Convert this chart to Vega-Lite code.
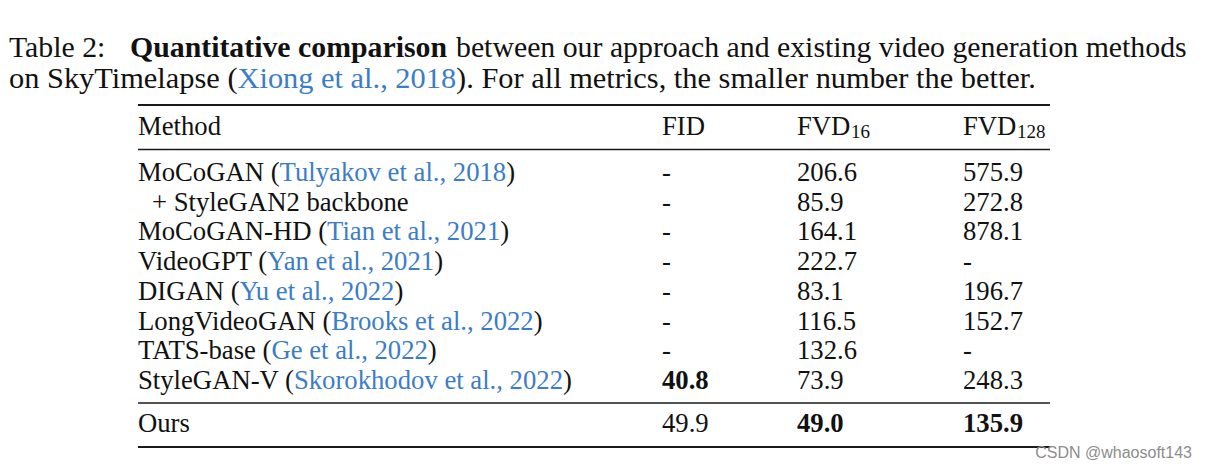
{
  "$schema": "https://vega.github.io/schema/vega-lite/v6.json",
  "width": 1207,
  "height": 469,
  "autosize": {"type": "none"},
  "padding": 0,
  "background": "white",
  "config": {"view": {"stroke": null}, "text": {"font": "Liberation Serif", "baseline": "alphabetic", "align": "left", "color": "#111111"}},
  "datasets": {
    "rules": [
      {"row": -1, "col": 2, "col2": 7, "kind": "thick"},
      {"row": 0.5, "col": 2, "col2": 7, "kind": "thin"},
      {"row": 8.5, "col": 2, "col2": 7, "kind": "thin"},
      {"row": 10, "col": 2, "col2": 7, "kind": "thick"}
    ],
    "caption1": [
      {"row": -3, "col": 0, "text": "Table 2:", "bold": false},
      {"row": -3, "col": 1, "text": "Quantitative comparison", "bold": true},
      {"row": -3, "col": 3, "text": "between our approach and existing video generation methods", "bold": false}
    ],
    "lines": [
      {"row": -2, "col": 0, "part": "caption", "pre": "on SkyTimelapse (", "cite": "Xiong et al., 2018", "post": "). For all metrics, the smaller number the better."},
      {"row": 1, "col": 2, "part": "table", "pre": "MoCoGAN (", "cite": "Tulyakov et al., 2018", "post": ")"},
      {"row": 2, "col": 2.5, "part": "table", "pre": "+ StyleGAN2 backbone", "cite": null, "post": ""},
      {"row": 3, "col": 2, "part": "table", "pre": "MoCoGAN-HD (", "cite": "Tian et al., 2021", "post": ")"},
      {"row": 4, "col": 2, "part": "table", "pre": "VideoGPT (", "cite": "Yan et al., 2021", "post": ")"},
      {"row": 5, "col": 2, "part": "table", "pre": "DIGAN (", "cite": "Yu et al., 2022", "post": ")"},
      {"row": 6, "col": 2, "part": "table", "pre": "LongVideoGAN (", "cite": "Brooks et al., 2022", "post": ")"},
      {"row": 7, "col": 2, "part": "table", "pre": "TATS-base (", "cite": "Ge et al., 2022", "post": ")"},
      {"row": 8, "col": 2, "part": "table", "pre": "StyleGAN-V (", "cite": "Skorokhodov et al., 2022", "post": ")"},
      {"row": 9, "col": 2, "part": "table", "pre": "Ours", "cite": null, "post": ""}
    ],
    "header": [
      {"row": 0, "col": 2, "text": "Method", "sub": null},
      {"row": 0, "col": 4, "text": "FID", "sub": null},
      {"row": 0, "col": 5, "text": "FVD", "sub": "16"},
      {"row": 0, "col": 6, "text": "FVD", "sub": "128"}
    ],
    "cells": [
      {"row": 1, "col": 4, "value": null, "best": false},
      {"row": 1, "col": 5, "value": 206.6, "best": false},
      {"row": 1, "col": 6, "value": 575.9, "best": false},
      {"row": 2, "col": 4, "value": null, "best": false},
      {"row": 2, "col": 5, "value": 85.9, "best": false},
      {"row": 2, "col": 6, "value": 272.8, "best": false},
      {"row": 3, "col": 4, "value": null, "best": false},
      {"row": 3, "col": 5, "value": 164.1, "best": false},
      {"row": 3, "col": 6, "value": 878.1, "best": false},
      {"row": 4, "col": 4, "value": null, "best": false},
      {"row": 4, "col": 5, "value": 222.7, "best": false},
      {"row": 4, "col": 6, "value": null, "best": false},
      {"row": 5, "col": 4, "value": null, "best": false},
      {"row": 5, "col": 5, "value": 83.1, "best": false},
      {"row": 5, "col": 6, "value": 196.7, "best": false},
      {"row": 6, "col": 4, "value": null, "best": false},
      {"row": 6, "col": 5, "value": 116.5, "best": false},
      {"row": 6, "col": 6, "value": 152.7, "best": false},
      {"row": 7, "col": 4, "value": null, "best": false},
      {"row": 7, "col": 5, "value": 132.6, "best": false},
      {"row": 7, "col": 6, "value": null, "best": false},
      {"row": 8, "col": 4, "value": 40.8, "best": true},
      {"row": 8, "col": 5, "value": 73.9, "best": false},
      {"row": 8, "col": 6, "value": 248.3, "best": false},
      {"row": 9, "col": 4, "value": 49.9, "best": false},
      {"row": 9, "col": 5, "value": 49.0, "best": true},
      {"row": 9, "col": 6, "value": 135.9, "best": true}
    ],
    "mark": [
      {"row": 11, "col": 8, "text": "CSDN @whaosoft143"}
    ]
  },
  "encoding": {
    "x": {"field": "col", "type": "quantitative", "axis": null,
      "scale": {"domain": [0, 1, 2, 2.5, 3, 4, 5, 6, 7, 8], "range": [9, 130, 138, 152, 456, 662, 797, 963, 1050, 1192], "nice": false, "zero": false}},
    "y": {"field": "row", "type": "quantitative", "axis": null,
      "scale": {"domain": [-3, -2, -1, 0, 0.5, 1, 8, 8.5, 9, 10, 11], "range": [57, 88, 105, 135, 149.5, 181, 389, 403, 432, 447, 458], "nice": false, "zero": false}}
  },
  "layer": [
    {
      "data": {"name": "rules"},
      "transform": [{"filter": "datum.kind === 'thick'"}],
      "mark": {"type": "rule", "strokeWidth": 2.2, "color": "#1a1a1a"},
      "encoding": {"x2": {"field": "col2"}}
    },
    {
      "data": {"name": "rules"},
      "transform": [{"filter": "datum.kind === 'thin'"}],
      "mark": {"type": "rule", "strokeWidth": 1.3, "color": "#1a1a1a"},
      "encoding": {"x2": {"field": "col2"}}
    },
    {
      "data": {"name": "caption1"},
      "transform": [{"filter": "!datum.bold"}],
      "mark": {"type": "text", "fontSize": 29.8},
      "encoding": {"text": {"field": "text"}}
    },
    {
      "data": {"name": "caption1"},
      "transform": [{"filter": "datum.bold"}],
      "mark": {"type": "text", "fontSize": 29.8, "fontWeight": "bold"},
      "encoding": {"text": {"field": "text"}}
    },
    {
      "data": {"name": "lines"},
      "transform": [{"calculate": "datum.pre + (datum.cite || '') + (datum.post || '')", "as": "full"}],
      "mark": {"type": "text"},
      "encoding": {
        "text": {"field": "full"},
        "size": {"condition": {"test": "datum.part === 'caption'", "value": 30.4}, "value": 26.7}
      }
    },
    {
      "data": {"name": "lines"},
      "transform": [{"filter": "datum.cite != null"}, {"calculate": "datum.pre + datum.cite", "as": "prefix"}],
      "mark": {"type": "text", "fill": "white", "stroke": "white", "strokeWidth": 2.2},
      "encoding": {
        "text": {"field": "prefix"},
        "size": {"condition": {"test": "datum.part === 'caption'", "value": 30.4}, "value": 26.7}
      }
    },
    {
      "data": {"name": "lines"},
      "transform": [{"filter": "datum.cite != null"}, {"calculate": "datum.pre + datum.cite", "as": "prefix"}],
      "mark": {"type": "text", "color": "#3b7dc6"},
      "encoding": {
        "text": {"field": "prefix"},
        "size": {"condition": {"test": "datum.part === 'caption'", "value": 30.4}, "value": 26.7}
      }
    },
    {
      "data": {"name": "lines"},
      "transform": [{"filter": "datum.cite != null"}],
      "mark": {"type": "text", "fill": "white", "stroke": "white", "strokeWidth": 2.2},
      "encoding": {
        "text": {"field": "pre"},
        "size": {"condition": {"test": "datum.part === 'caption'", "value": 30.4}, "value": 26.7}
      }
    },
    {
      "data": {"name": "lines"},
      "transform": [{"filter": "datum.cite != null"}],
      "mark": {"type": "text"},
      "encoding": {
        "text": {"field": "pre"},
        "size": {"condition": {"test": "datum.part === 'caption'", "value": 30.4}, "value": 26.7}
      }
    },
    {
      "data": {"name": "header"},
      "mark": {"type": "text", "fontSize": 26.7},
      "encoding": {"text": {"field": "text"}}
    },
    {
      "data": {"name": "header"},
      "transform": [{"filter": "datum.sub != null"}],
      "mark": {"type": "text", "fontSize": 19, "dx": 54, "dy": 3},
      "encoding": {"text": {"field": "sub"}}
    },
    {
      "data": {"name": "cells"},
      "transform": [{"filter": "!datum.best"}, {"calculate": "datum.value == null ? '-' : format(datum.value, '.1f')", "as": "label"}],
      "mark": {"type": "text", "fontSize": 26.7},
      "encoding": {"text": {"field": "label"}}
    },
    {
      "data": {"name": "cells"},
      "transform": [{"filter": "datum.best"}, {"calculate": "format(datum.value, '.1f')", "as": "label"}],
      "mark": {"type": "text", "fontSize": 26.7, "fontWeight": "bold"},
      "encoding": {"text": {"field": "label"}}
    },
    {
      "data": {"name": "mark"},
      "mark": {"type": "text", "font": "Liberation Sans", "fontSize": 16, "align": "right", "color": "#8c8c8c"},
      "encoding": {"text": {"field": "text"}}
    }
  ]
}
